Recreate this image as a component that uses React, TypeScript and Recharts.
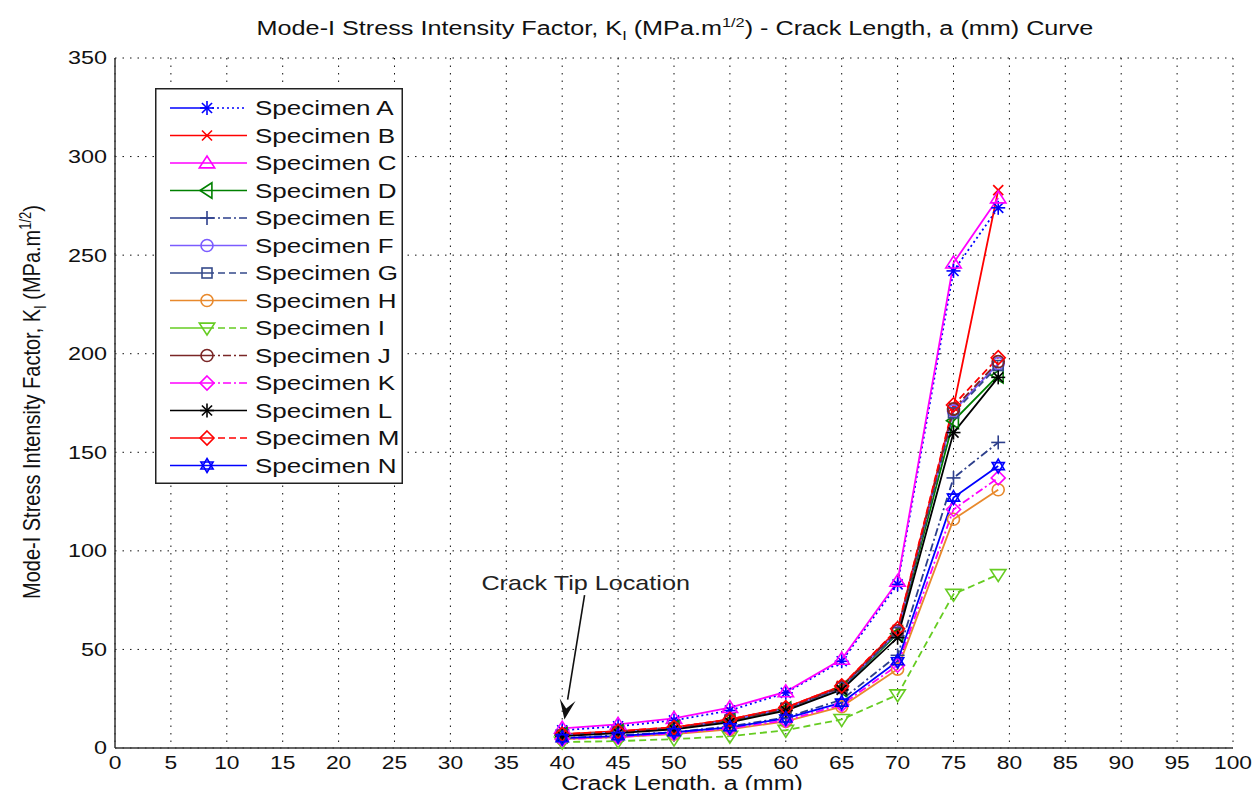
import React from "react";
import {
  LineChart,
  Line,
  XAxis,
  YAxis,
  CartesianGrid,
  Legend,
  ReferenceLine,
  ReferenceDot,
} from "recharts";

// crack length a (mm)
const crackLength = [40, 45, 50, 55, 60, 65, 70, 75, 79];
const xTicks = [0, 5, 10, 15, 20, 25, 30, 35, 40, 45, 50, 55, 60, 65, 70, 75, 80, 85, 90, 95, 100];
const yTicks = [0, 50, 100, 150, 200, 250, 300, 350];

// K_I values (MPa.m^1/2) per specimen
const specimenA = [9, 11, 14, 19, 28, 44, 83, 242, 274];
const specimenB = [7, 8.5, 10.5, 14.5, 20.5, 31.5, 60, 173, 283];
const specimenC = [10, 12, 15, 20.5, 28.5, 45, 84.5, 246, 279];
const specimenD = [6.5, 8, 10, 13.5, 19.5, 30, 58, 166, 189];
const specimenE = [5, 6.5, 8, 11, 15.5, 24.5, 47, 137, 155];
const specimenF = [6.5, 8, 10, 14, 20, 30.5, 59, 171, 195];
const specimenG = [6.5, 8, 10, 14, 20, 30.5, 58.5, 170, 194];
const specimenH = [4.5, 5.5, 7, 9.5, 13.5, 21, 40, 116, 131];
const specimenI = [3, 3.5, 4.5, 6, 9, 14.5, 27, 78, 88];
const specimenJ = [6.5, 8, 10, 14, 20, 31, 59.5, 172, 196];
const specimenK = [4.5, 5.5, 7.5, 10, 14, 22, 42, 121, 137];
const specimenL = [6, 7.5, 9.5, 13, 19, 29.5, 56, 160, 188];
const specimenM = [7, 8.5, 10.5, 14.5, 20.5, 31.5, 60.5, 174, 198];
const specimenN = [5, 6, 8, 10.5, 15, 23, 44, 127, 143];

const series = [
  { key: "A", name: "Specimen A", values: specimenA, color: "#0000ff", dash: "2 3", marker: "asterisk" },
  { key: "B", name: "Specimen B", values: specimenB, color: "#ff0000", dash: undefined, marker: "x" },
  { key: "C", name: "Specimen C", values: specimenC, color: "#ff00ff", dash: undefined, marker: "triUp" },
  { key: "D", name: "Specimen D", values: specimenD, color: "#008000", dash: undefined, marker: "triLeft" },
  { key: "E", name: "Specimen E", values: specimenE, color: "#2d3f8c", dash: "8 3 2 3", marker: "plus" },
  { key: "F", name: "Specimen F", values: specimenF, color: "#7b5cff", dash: undefined, marker: "circle" },
  { key: "G", name: "Specimen G", values: specimenG, color: "#354a8a", dash: "7 4", marker: "square" },
  { key: "H", name: "Specimen H", values: specimenH, color: "#e8892c", dash: undefined, marker: "circle" },
  { key: "I", name: "Specimen I", values: specimenI, color: "#66cc22", dash: "7 4", marker: "triDown" },
  { key: "J", name: "Specimen J", values: specimenJ, color: "#7a2626", dash: "8 3 2 3", marker: "circle" },
  { key: "K", name: "Specimen K", values: specimenK, color: "#ff00ff", dash: "8 3 2 3", marker: "diamond" },
  { key: "L", name: "Specimen L", values: specimenL, color: "#000000", dash: undefined, marker: "asterisk" },
  { key: "M", name: "Specimen M", values: specimenM, color: "#ff0000", dash: "7 4", marker: "diamond" },
  { key: "N", name: "Specimen N", values: specimenN, color: "#0000ff", dash: undefined, marker: "hexagram" },
];

const data = crackLength.map((a, i) => {
  const row: Record<string, number> = { a };
  series.forEach((s) => {
    row[s.key] = s.values[i];
  });
  return row;
});

const narrow = "'Liberation Sans Narrow', 'Liberation Sans', Arial, sans-serif";
const wide = "'Liberation Sans', Arial, sans-serif";
const ink = "#111";

function Marker({ shape, cx, cy, color }: { shape: string; cx: number; cy: number; color: string }) {
  const s = 7;
  const p = { stroke: color, strokeWidth: 1.6, fill: "none" };
  switch (shape) {
    case "asterisk": {
      const d = s * 0.72;
      return (
        <g {...p}>
          <line x1={cx - s} y1={cy} x2={cx + s} y2={cy} />
          <line x1={cx} y1={cy - s} x2={cx} y2={cy + s} />
          <line x1={cx - d} y1={cy - d} x2={cx + d} y2={cy + d} />
          <line x1={cx - d} y1={cy + d} x2={cx + d} y2={cy - d} />
        </g>
      );
    }
    case "x":
      return (
        <g {...p}>
          <line x1={cx - 5} y1={cy - 5} x2={cx + 5} y2={cy + 5} />
          <line x1={cx - 5} y1={cy + 5} x2={cx + 5} y2={cy - 5} />
        </g>
      );
    case "plus":
      return (
        <g {...p}>
          <line x1={cx - s} y1={cy} x2={cx + s} y2={cy} />
          <line x1={cx} y1={cy - s} x2={cx} y2={cy + s} />
        </g>
      );
    case "triUp":
      return <polygon {...p} points={`${cx},${cy - s} ${cx + s * 1.1},${cy + s * 0.7} ${cx - s * 1.1},${cy + s * 0.7}`} />;
    case "triDown":
      return <polygon {...p} points={`${cx},${cy + s} ${cx + s * 1.1},${cy - s * 0.7} ${cx - s * 1.1},${cy - s * 0.7}`} />;
    case "triLeft":
      return <polygon {...p} points={`${cx - s},${cy} ${cx + s * 0.7},${cy - s * 1.1} ${cx + s * 0.7},${cy + s * 1.1}`} />;
    case "circle":
      return <circle {...p} cx={cx} cy={cy} r={6} />;
    case "square":
      return <rect {...p} x={cx - 5} y={cy - 5} width={10} height={10} />;
    case "diamond":
      return <polygon {...p} points={`${cx},${cy - s} ${cx + s},${cy} ${cx},${cy + s} ${cx - s},${cy}`} />;
    case "hexagram":
      return (
        <g {...p}>
          <polygon points={`${cx},${cy - s} ${cx + s * 0.87},${cy + s * 0.5} ${cx - s * 0.87},${cy + s * 0.5}`} />
          <polygon points={`${cx},${cy + s} ${cx + s * 0.87},${cy - s * 0.5} ${cx - s * 0.87},${cy - s * 0.5}`} />
        </g>
      );
    default:
      return null;
  }
}

function SpecimenLegend() {
  const rowH = 27.5;
  return (
    <svg width={248} height={396} style={{ display: "block" }}>
      <rect x={0.75} y={0.75} width={246.5} height={394.5} fill="#fff" stroke="#222" strokeWidth={1.5} />
      {series.map((s, i) => {
        const y = 20 + i * rowH;
        return (
          <g key={s.key}>
            <line x1={15} y1={y} x2={52} y2={y} stroke={s.color} strokeWidth={1.6} />
            <line x1={52} y1={y} x2={92} y2={y} stroke={s.color} strokeWidth={1.6} strokeDasharray={s.dash} />
            <Marker shape={s.marker} cx={52} cy={y} color={s.color} />
            <g transform={`translate(100, ${y + 7}) scale(1.3, 1)`}>
              <text x={0} y={0} fontFamily={wide} fontSize={20} fill={ink}>
                {s.name}
              </text>
            </g>
          </g>
        );
      })}
    </svg>
  );
}

function XTick(p: any) {
  return (
    <g transform={`translate(${p.x}, ${p.y}) scale(1.2, 1)`}>
      <text x={0} y={0} dy="0.71em" textAnchor="middle" fontFamily={narrow} fontSize={19} fill={ink}>
        {p.payload.value}
      </text>
    </g>
  );
}

function YTick(p: any) {
  return (
    <g transform={`translate(${p.x}, ${p.y}) scale(1.3, 1)`}>
      <text x={0} y={0} dy="0.36em" textAnchor="end" fontFamily={wide} fontSize={18} fill={ink}>
        {p.payload.value}
      </text>
    </g>
  );
}

function XTitle(p: any) {
  const vb = p.viewBox || {};
  const cx = (vb.x ?? 0) + (vb.width ?? 0) / 2;
  const base = (vb.y ?? 0) + (vb.height ?? 0);
  return (
    <g transform={`translate(${cx + 8}, ${base + 10}) scale(1.25, 1)`}>
      <text x={0} y={0} textAnchor="middle" fontFamily={narrow} fontSize={20} fill={ink}>
        Crack Length, a (mm)
      </text>
    </g>
  );
}

function Arrow(props: any) {
  const { x1, y1, x2, y2 } = props;
  const ang = Math.atan2(y2 - y1, x2 - x1);
  const len = 20;
  const w = 8;
  const bx = x2 - len * Math.cos(ang);
  const by = y2 - len * Math.sin(ang);
  const nx = -Math.sin(ang);
  const ny = Math.cos(ang);
  return (
    <g>
      <line x1={x1} y1={y1} x2={bx} y2={by} stroke={ink} strokeWidth={1.6} />
      <polygon
        points={`${x2},${y2} ${bx + nx * w},${by + ny * w} ${bx + 0.45 * len * Math.cos(ang)},${by + 0.45 * len * Math.sin(ang)} ${bx - nx * w},${by - ny * w}`}
        fill={ink}
      />
    </g>
  );
}

const supStyle = { fontSize: 13 };

export default function App() {
  return (
    <div style={{ position: "relative", width: 1244, height: 790, marginBottom: -8, overflow: "hidden" }}>
      <div
        style={{
          position: "absolute",
          left: 0,
          width: 1334,
          top: 7,
          textAlign: "center",
          fontFamily: narrow,
          fontSize: 20,
          color: ink,
          transform: "scaleX(1.26)",
          transformOrigin: "667px 50%",
        }}
      >
        Mode-I Stress Intensity Factor, K<sub style={supStyle}>I</sub> (MPa.m
        <sup style={supStyle}>1/2</sup>) - Crack Length, a (mm) Curve
      </div>
      <div style={{ position: "absolute", left: 25, top: 394, width: 0, height: 0 }}>
        <div
          style={{
            position: "absolute",
            transform: "translate(-50%, -50%) rotate(-90deg) scaleY(1.2)",
            whiteSpace: "nowrap",
            fontFamily: narrow,
            fontSize: 20,
            color: ink,
          }}
        >
          Mode-I Stress Intensity Factor, K<sub style={supStyle}>I</sub> (MPa.m
          <sup style={supStyle}>1/2</sup>)
        </div>
      </div>
      <LineChart
        width={1244}
        height={790}
        data={data}
        margin={{ top: 50, right: 19, left: 47, bottom: 18 }}
        style={{ position: "absolute", left: 0, top: 0 }}
      >
        <CartesianGrid stroke={ink} strokeDasharray="1.5 6" strokeWidth={1} />
        <XAxis
          xAxisId="inner"
          dataKey="a"
          type="number"
          domain={[0, 100]}
          ticks={xTicks}
          orientation="bottom"
          mirror
          height={0}
          tick={false}
          tickSize={5}
          stroke="#333"
          axisLine={false}
        />
        <XAxis
          xAxisId="top"
          dataKey="a"
          type="number"
          domain={[0, 100]}
          ticks={xTicks}
          orientation="top"
          mirror
          height={0}
          tick={false}
          tickSize={5}
          stroke="#333"
          strokeWidth={1.5}
        />
        <XAxis
          dataKey="a"
          type="number"
          domain={[0, 100]}
          ticks={xTicks}
          interval={0}
          height={32}
          tickLine={false}
          stroke="#333"
          strokeWidth={1.5}
          tick={<XTick />}
          label={<XTitle />}
        />
        <YAxis
          yAxisId="inner"
          type="number"
          domain={[0, 350]}
          ticks={yTicks}
          orientation="left"
          mirror
          width={0}
          tick={false}
          tickSize={5}
          stroke="#333"
          axisLine={false}
        />
        <YAxis
          yAxisId="right"
          type="number"
          domain={[0, 350]}
          ticks={yTicks}
          orientation="right"
          mirror
          width={0}
          tick={false}
          tickSize={5}
          stroke="#333"
          strokeWidth={1.5}
        />
        <YAxis
          type="number"
          domain={[0, 350]}
          ticks={yTicks}
          interval={0}
          width={60}
          tickLine={false}
          stroke="#333"
          strokeWidth={1.5}
          tick={<YTick />}
        />
        <Legend
          layout="vertical"
          align="center"
          verticalAlign="middle"
          wrapperStyle={{ left: 147, top: 80, width: 248, height: 396 }}
          content={() => <SpecimenLegend />}
        />
        {series.map((s) => (
          <Line
            key={s.key}
            dataKey={s.key}
            name={s.name}
            stroke={s.color}
            strokeWidth={1.8}
            strokeDasharray={s.dash}
            isAnimationActive={false}
            dot={(p: any) => (
              <Marker key={`${s.key}-${p.index}`} shape={s.marker} cx={p.cx} cy={p.cy} color={s.color} />
            )}
            activeDot={false}
          />
        ))}
        <ReferenceLine
          segment={[
            { x: 42.0, y: 77.5 },
            { x: 40.2, y: 14.5 },
          ]}
          shape={Arrow}
        />
        <ReferenceDot
          x={42.1}
          y={83.5}
          r={0}
          shape={(p: any) => (
            <g transform={`translate(${p.cx}, ${p.cy + 7}) scale(1.26, 1)`}>
              <text x={0} y={0} textAnchor="middle" fontFamily={wide} fontSize={20} fill="#222">
                Crack Tip Location
              </text>
            </g>
          )}
        />
      </LineChart>
    </div>
  );
}
